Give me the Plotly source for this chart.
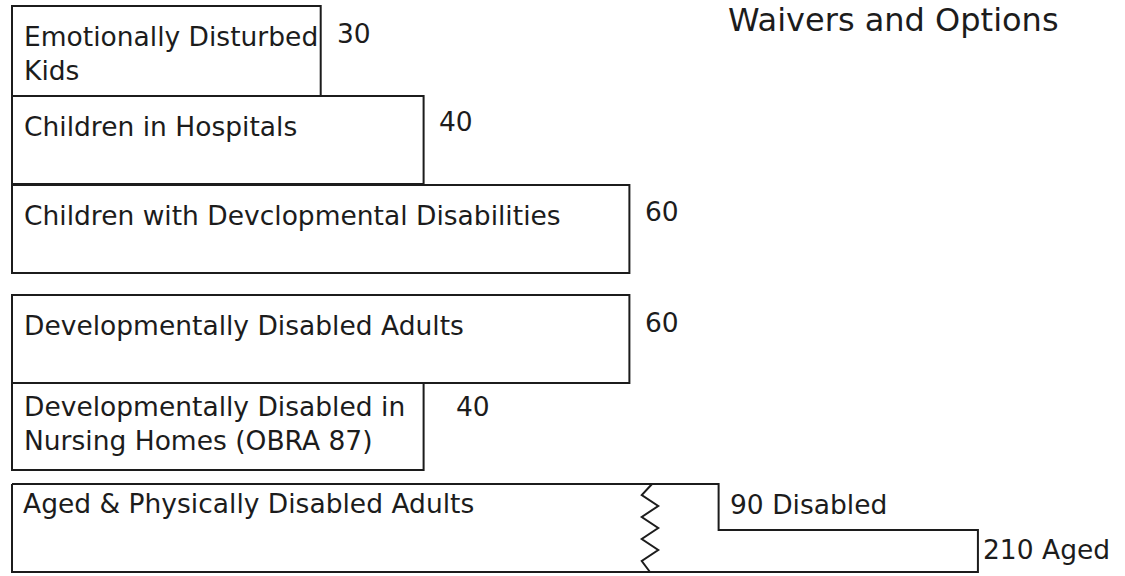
import plotly.graph_objects as go

# ---------------- data ----------------
categories = [
    "Emotionally Disturbed<br>Kids",
    "Children in Hospitals",
    "Children with Devclopmental Disabilities",
    "Developmentally Disabled Adults",
    "Developmentally Disabled in<br>Nursing Homes (OBRA 87)",
]
values = [30, 40, 60, 60, 40]

last_category = "Aged & Physically Disabled Adults"
split_labels = ["Disabled", "Aged"]
split_values = [90, 210]

title_text = "Waivers and Options"

# ---------------- layout helpers (positions / styles) ----------------
bar_top = [6, 96, 185, 295, 383]
bar_bottom = [96, 184, 273, 383, 470]
label_y = [53, 126, 215, 325, 423]
value_y = [33, 121, 211, 322, 406]
value_dx = [1.35, 1.35, 1.35, 1.35, 3.0]   # gap between bar end and its number (axis units)
last_top, last_step, last_bottom = 484, 530, 572
last_label_y = 503

BREAK = 63.0      # broken value axis: values above BREAK are compressed
COMPRESS = 0.21

def disp(v):
    return v if v <= BREAK else BREAK + (v - BREAK) * COMPRESS

PX_PER_UNIT = 10.29
X0_PX = 12
W, H = 1125, 576
FONT = "DejaVu Sans"
INK = "#1c1c1c"
LABEL_SIZE = 26.5

fig = go.Figure()

# plain bars
fig.add_trace(go.Bar(
    orientation="h",
    x=[disp(v) for v in values],
    y=[(t + b) / 2 for t, b in zip(bar_top, bar_bottom)],
    width=[b - t for t, b in zip(bar_top, bar_bottom)],
    base=0,
    marker=dict(color="white", line=dict(color=INK, width=2)),
    hoverinfo="skip",
    showlegend=False,
))

# stepped bar (Disabled / Aged)
xd, xa = disp(split_values[0]), disp(split_values[1])
fig.add_trace(go.Scatter(
    x=[0, xd, xd, xa, xa, 0, 0],
    y=[last_top, last_top, last_step, last_step, last_bottom, last_bottom, last_top],
    mode="lines", fill="toself", fillcolor="white",
    line=dict(color=INK, width=2),
    hoverinfo="skip", showlegend=False,
))

# zigzag break mark
zx_c = BREAK - 1.0
amp = 0.8
n = 8
zx, zy = [zx_c + 0.2], [last_top]
for i in range(1, n):
    zx.append(zx_c - amp if i % 2 else zx_c + amp)
    zy.append(last_top + (last_bottom - last_top) * i / n)
zx.append(zx_c)
zy.append(last_bottom)
fig.add_trace(go.Scatter(x=zx, y=zy, mode="lines",
                         line=dict(color=INK, width=2),
                         hoverinfo="skip", showlegend=False))

annotations = []
for cat, v, ly, vy, dx in zip(categories, values, label_y, value_y, value_dx):
    annotations.append(dict(x=1.0, y=ly, text=cat, xanchor="left", yanchor="middle",
                            showarrow=False, align="left",
                            font=dict(family=FONT, size=LABEL_SIZE, color=INK)))
    annotations.append(dict(x=disp(v) + dx, y=vy, text=str(v), xanchor="left",
                            yanchor="middle", showarrow=False,
                            font=dict(family=FONT, size=LABEL_SIZE, color=INK)))

annotations.append(dict(x=0.9, y=last_label_y, text=last_category, xanchor="left",
                        yanchor="middle", showarrow=False,
                        font=dict(family=FONT, size=LABEL_SIZE, color=INK)))
annotations.append(dict(x=xd + 0.9, y=(last_top + last_step) / 2 - 3,
                        text=f"{split_values[0]} {split_labels[0]}", xanchor="left",
                        yanchor="middle", showarrow=False,
                        font=dict(family=FONT, size=LABEL_SIZE, color=INK)))
annotations.append(dict(x=xa + 0.3, y=(last_step + last_bottom) / 2 - 2,
                        text=f"{split_values[1]} {split_labels[1]}", xanchor="left",
                        yanchor="middle", showarrow=False,
                        font=dict(family=FONT, size=LABEL_SIZE, color=INK)))
annotations.append(dict(x=(726 - X0_PX) / PX_PER_UNIT, y=20, text=title_text,
                        xanchor="left", yanchor="middle", showarrow=False,
                        font=dict(family=FONT, size=32, color=INK)))

fig.update_layout(
    width=W, height=H,
    margin=dict(l=0, r=0, t=0, b=0),
    paper_bgcolor="white", plot_bgcolor="white",
    xaxis=dict(range=[-X0_PX / PX_PER_UNIT, (W - X0_PX) / PX_PER_UNIT],
               visible=False, fixedrange=True),
    yaxis=dict(range=[H, 0], visible=False, fixedrange=True),
    annotations=annotations,
    barmode="overlay",
)

fig.write_html(
    "out.html",
    config={"displayModeBar": False},
    post_script="document.body.style.margin='0';document.body.style.overflow='hidden';",
)
